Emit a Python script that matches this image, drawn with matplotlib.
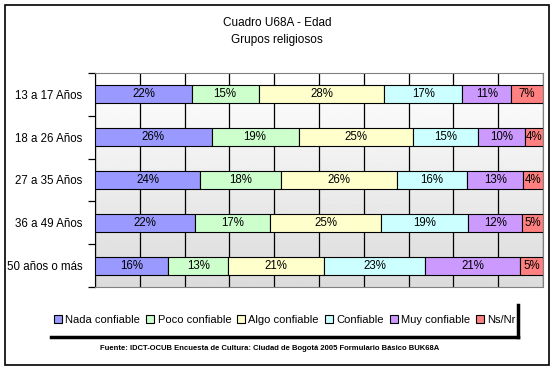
import numpy as np
import matplotlib.pyplot as plt
from matplotlib.patches import Patch, Rectangle
from matplotlib.lines import Line2D

plt.rcParams['font.family'] = ['Liberation Sans', 'DejaVu Sans']

groups = ['13 a 17 Años', '18 a 26 Años', '27 a 35 Años', '36 a 49 Años', '50 años o más']
series = ['Nada confiable', 'Poco confiable', 'Algo confiable', 'Confiable', 'Muy confiable', 'Ns/Nr']
nada = [21.6, 26.0, 23.6, 22.2, 16.4]
poco = [14.9, 19.4, 18.1, 16.7, 13.4]
algo = [28.1, 25.4, 25.9, 24.9, 21.4]
confiable = [17.4, 14.7, 15.7, 19.4, 22.6]
muy = [10.9, 10.3, 12.6, 12.0, 21.1]
nsnr = [7.1, 4.1, 4.4, 4.6, 5.2]
colors = ['#9999FF', '#CCFFCC', '#FFFFCC', '#CCFFFF', '#CC99FF', '#FF8080']

raw = [nada, poco, algo, confiable, muy, nsnr]
data = np.array(raw)
data = data / data.sum(axis=0) * 100

fig = plt.figure(figsize=(5.54, 3.69), dpi=100)
ax = fig.add_axes([95 / 554, 1 - 287 / 369, 448 / 554, 214 / 369])

# gradient background, white at top to light grey
grad = np.linspace(1.0, 0.86, 256).reshape(-1, 1)
ax.imshow(grad, cmap='gray', vmin=0, vmax=1, aspect='auto',
          extent=[0, 100, 4.5, -0.5], zorder=0)

y = np.arange(len(groups))
left = np.zeros(len(groups))
for i, s in enumerate(series):
    bars = ax.barh(y, data[i], left=left, height=0.42, color=colors[i],
                   edgecolor='black', linewidth=0.8, zorder=3, label=s)
    ax.bar_label(bars, labels=['%.0f%%' % v for v in raw[i]],
                 label_type='center', fontsize=8.3, zorder=4)
    left += data[i]

ax.set_xlim(0, 100)
ax.set_ylim(4.5, -0.5)
ax.set_xticks(np.arange(0, 101, 10))
ax.xaxis.grid(True, color='black', linewidth=0.9, zorder=1)
ax.set_axisbelow(True)
ax.tick_params(axis='x', length=0, labelbottom=False)
ax.set_yticks(y)
ax.set_yticklabels(groups, fontsize=8.3)
ax.set_yticks(np.arange(-0.5, 5, 1), minor=True)
ax.tick_params(axis='y', which='major', length=0, pad=9)
ax.tick_params(axis='y', which='minor', length=5, width=0.9)
for side in ['top', 'right', 'bottom']:
    ax.spines[side].set_color('#808080')
ax.spines['left'].set_color('black')

fig.text(0.5, 1 - 23 / 369, 'Cuadro U68A - Edad', ha='center', va='center', fontsize=8.5)
fig.text(0.5, 1 - 40 / 369, 'Grupos religiosos', ha='center', va='center', fontsize=8.5)

handles = [Patch(facecolor=c, edgecolor='black', linewidth=0.8) for c in colors]
fig.legend(handles, series, loc='center', bbox_to_anchor=(285 / 554, 1 - 320 / 369),
           ncol=6, frameon=False, fontsize=8, handlelength=0.7, handleheight=0.7,
           handletextpad=0.3, columnspacing=0.55)
# legend shadow lines
fig.add_artist(Line2D([51 / 554, 518 / 554], [1 - 337 / 369] * 2, color='black', linewidth=2.5))
fig.add_artist(Line2D([518 / 554] * 2, [1 - 305 / 369, 1 - 337 / 369], color='black', linewidth=2.5))

fig.text(270 / 554, 1 - 349 / 369,
         'Fuente: IDCT-OCUB Encuesta de Cultura: Ciudad de Bogotá 2005 Formulario Básico BUK68A',
         ha='center', va='center', fontsize=5.5, fontweight='bold')

fig.add_artist(Rectangle((5 / 554, 1 - 365 / 369), 544 / 554, 360 / 369, fill=False,
                         edgecolor='black', linewidth=1.2, transform=fig.transFigure))

fig.savefig('out.png', dpi=100)
